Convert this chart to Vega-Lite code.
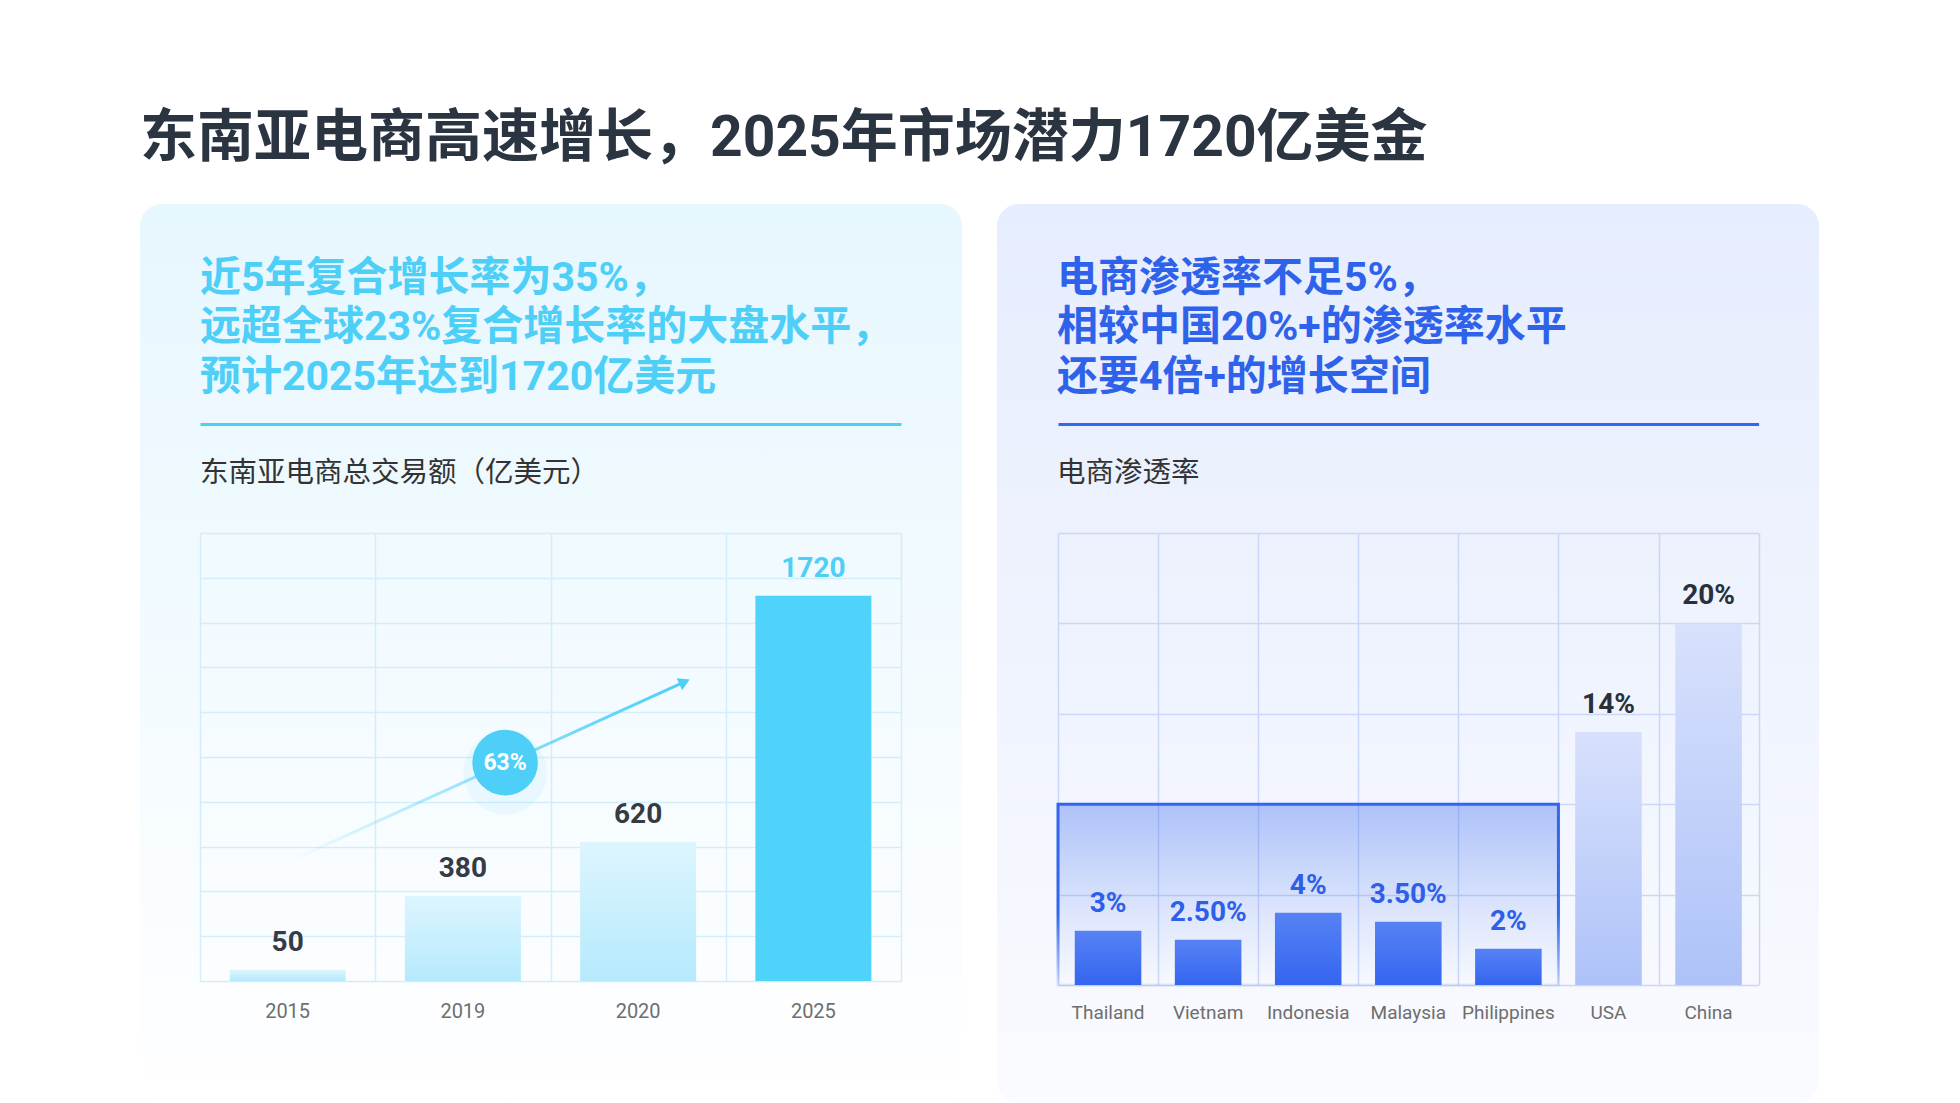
{
  "$schema": "https://vega.github.io/schema/vega-lite/v6.json",
  "background": "#FFFFFF",
  "padding": {"left": 140, "top": 110, "right": 20, "bottom": 0},
  "title": {
    "text": "东南亚电商高速增长，2025年市场潜力1720亿美金",
    "anchor": "start",
    "frame": "bounds",
    "font": "Roboto, Noto Sans CJK SC",
    "fontSize": 57,
    "fontWeight": "bold",
    "color": "#2B3441",
    "offset": 36
  },
  "datasets": {
    "gmv": [
      {"year": "2015", "gmv": 50},
      {"year": "2019", "gmv": 380},
      {"year": "2020", "gmv": 620},
      {"year": "2025", "gmv": 1720}
    ],
    "trend": [
      {"part": "tail", "pos": 0.526, "gmv": 540},
      {"part": "head", "pos": 2.765, "gmv": 1335}
    ],
    "cagr": [
      {"pos": 1.741, "gmv": 975, "label": "63%"}
    ],
    "pen": [
      {"country": "Thailand", "rate": 3, "label": "3%", "region": "SEA"},
      {"country": "Vietnam", "rate": 2.5, "label": "2.50%", "region": "SEA"},
      {"country": "Indonesia", "rate": 4, "label": "4%", "region": "SEA"},
      {"country": "Malaysia", "rate": 3.5, "label": "3.50%", "region": "SEA"},
      {"country": "Philippines", "rate": 2, "label": "2%", "region": "SEA"},
      {"country": "USA", "rate": 14, "label": "14%", "region": "Benchmark"},
      {"country": "China", "rate": 20, "label": "20%", "region": "Benchmark"}
    ],
    "seaBand": [
      {"from": 0, "to": 5, "low": 0, "high": 10}
    ]
  },
  "hconcat": [
    {
      "width": 822,
      "height": 899,
      "view": {
        "fill": {"gradient": "linear", "x1": 0, "y1": 0, "x2": 0, "y2": 1, "stops": [
          {"offset": 0, "color": "#E7F7FE"},
          {"offset": 0.55, "color": "#F4FBFF"},
          {"offset": 1, "color": "#FFFFFF"}
        ]},
        "cornerRadius": 22,
        "stroke": null
      },
      "title": {
        "text": ["近5年复合增长率为35%，", "远超全球23%复合增长率的大盘水平，", "预计2025年达到1720亿美元"],
        "subtitle": "东南亚电商总交易额（亿美元）",
        "anchor": "start",
        "frame": "group",
        "orient": "top",
        "baseline": "top",
        "dx": 60,
        "offset": -284,
        "font": "Roboto, Noto Sans CJK SC",
        "fontSize": 41,
        "fontWeight": "bold",
        "color": "#4DCFF7",
        "lineHeight": 49.5,
        "subtitleFont": "Noto Sans CJK SC",
        "subtitleFontSize": 28.5,
        "subtitleFontWeight": "normal",
        "subtitleColor": "#333333",
        "subtitlePadding": 60
      },
      "resolve": {"scale": {"x": "independent"}},
      "layer": [
        {
          "data": {"name": "gmv"},
          "encoding": {
            "x": {
              "field": "year", "type": "ordinal", "sort": null, "title": null,
              "scale": {"domain": ["2015", "2019", "2020", "2025"], "range": [60, 761], "paddingInner": 0.338, "paddingOuter": 0.169},
              "axis": {
                "orient": "bottom", "offset": -122, "title": null, "domain": false, "ticks": false,
                "labelPadding": 20, "labelFont": "Roboto", "labelFontSize": 20, "labelColor": "#6E6E6E", "labelAngle": 0,
                "grid": false
              }
            },
            "y": {
              "field": "gmv", "type": "quantitative", "title": null,
              "scale": {"domain": [0, 2000], "range": [777, 329], "nice": false, "zero": true},
              "axis": {
                "title": null, "labels": false, "ticks": false, "domain": false, "grid": true,
                "values": [0, 200, 400, 600, 800, 1000, 1200, 1400, 1600, 1800, 2000],
                "gridColor": "#D2EEF9", "gridWidth": 1.5
              }
            }
          },
          "layer": [
            {
              "transform": [{"filter": "datum.year !== '2025'"}],
              "mark": {"type": "bar", "fill": {"gradient": "linear", "x1": 0, "y1": 0, "x2": 0, "y2": 1, "stops": [
                {"offset": 0, "color": "#DDF5FE"},
                {"offset": 1, "color": "#B5EAFC"}
              ]}}
            },
            {
              "transform": [{"filter": "datum.year === '2025'"}],
              "mark": {"type": "bar", "fill": "#50D3FB"}
            },
            {
              "mark": {"type": "text", "font": "Roboto", "fontSize": 28, "fontWeight": "bold", "baseline": "middle", "dy": -27},
              "encoding": {
                "text": {"field": "gmv", "type": "quantitative", "format": "d"},
                "color": {"condition": {"test": "datum.year === '2025'", "value": "#4DCFF7"}, "value": "#353B45"}
              }
            }
          ]
        },
        {
          "encoding": {
            "x": {
              "field": "pos", "type": "quantitative", "title": null,
              "scale": {"domain": [0, 4], "range": [60, 761], "nice": false, "zero": false},
              "axis": {
                "orient": "top", "offset": -220, "title": null, "labels": false, "ticks": false,
                "grid": true, "values": [0, 1, 2, 3, 4], "gridColor": "#D2EEF9", "gridWidth": 1.5,
                "domain": true, "domainColor": "#4DCFF7", "domainWidth": 3
              }
            },
            "y": {
              "field": "gmv", "type": "quantitative", "title": null,
              "scale": {"domain": [0, 2000], "range": [777, 329], "nice": false, "zero": true}
            }
          },
          "layer": [
            {
              "data": {"name": "trend"},
              "mark": {"type": "line", "strokeWidth": 3, "stroke": {"gradient": "linear", "x1": 0, "y1": 0, "x2": 1, "y2": 0, "stops": [
                {"offset": 0, "color": "rgba(77,207,247,0)"},
                {"offset": 0.45, "color": "rgba(77,207,247,0.55)"},
                {"offset": 1, "color": "#4DCFF7"}
              ]}}
            },
            {
              "data": {"name": "trend"},
              "transform": [{"filter": "datum.part === 'head'"}],
              "mark": {"type": "point", "shape": "triangle-up", "filled": true, "fill": "#4DCFF7", "opacity": 1, "size": 170, "angle": 65.5}
            },
            {
              "data": {"name": "cagr"},
              "mark": {"type": "point", "shape": "circle", "filled": true, "fill": "#4DCFF7", "opacity": 0.08, "size": 7000, "yOffset": 10}
            },
            {
              "data": {"name": "cagr"},
              "mark": {"type": "point", "shape": "circle", "filled": true, "fill": "#4DCFF7", "opacity": 1, "size": 4300}
            },
            {
              "data": {"name": "cagr"},
              "mark": {"type": "text", "font": "Roboto", "fontSize": 23, "fontWeight": "bold", "color": "#FFFFFF", "baseline": "middle", "align": "center"},
              "encoding": {"text": {"field": "label", "type": "nominal"}}
            }
          ]
        }
      ]
    },
    {
      "width": 822,
      "height": 899,
      "view": {
        "fill": {"gradient": "linear", "x1": 0, "y1": 0, "x2": 0, "y2": 1, "stops": [
          {"offset": 0, "color": "#E6EDFD"},
          {"offset": 0.55, "color": "#F0F4FE"},
          {"offset": 1, "color": "#FAFBFF"}
        ]},
        "cornerRadius": 22,
        "stroke": null
      },
      "title": {
        "text": ["电商渗透率不足5%，", "相较中国20%+的渗透率水平", "还要4倍+的增长空间"],
        "subtitle": "电商渗透率",
        "anchor": "start",
        "frame": "group",
        "orient": "top",
        "baseline": "top",
        "dx": 60,
        "offset": -284,
        "font": "Roboto, Noto Sans CJK SC",
        "fontSize": 41,
        "fontWeight": "bold",
        "color": "#2F62EA",
        "lineHeight": 49.5,
        "subtitleFont": "Noto Sans CJK SC",
        "subtitleFontSize": 28.5,
        "subtitleFontWeight": "normal",
        "subtitleColor": "#333333",
        "subtitlePadding": 60
      },
      "resolve": {"scale": {"x": "independent"}},
      "layer": [
        {
          "data": {"name": "seaBand"},
          "mark": {
            "type": "rect",
            "strokeWidth": 3,
            "fill": {"gradient": "linear", "x1": 0, "y1": 0, "x2": 0, "y2": 1, "stops": [
              {"offset": 0, "color": "rgba(51,102,238,0.36)"},
              {"offset": 0.6, "color": "rgba(51,102,238,0.12)"},
              {"offset": 1, "color": "rgba(51,102,238,0)"}
            ]},
            "stroke": {"gradient": "linear", "x1": 0, "y1": 0, "x2": 0, "y2": 1, "stops": [
              {"offset": 0, "color": "#3366EE"},
              {"offset": 0.6, "color": "#3366EE"},
              {"offset": 1, "color": "rgba(51,102,238,0.1)"}
            ]}
          },
          "encoding": {
            "x": {
              "field": "from", "type": "quantitative", "title": null,
              "scale": {"domain": [0, 7], "range": [61, 761.6], "nice": false, "zero": false},
              "axis": {
                "orient": "top", "offset": -220, "title": null, "labels": false, "ticks": false,
                "grid": true, "values": [0, 1, 2, 3, 4, 5, 6, 7], "gridColor": "#CBD7F8", "gridWidth": 1.5,
                "domain": true, "domainColor": "#3367EC", "domainWidth": 3
              }
            },
            "x2": {"field": "to"},
            "y": {
              "field": "low", "type": "quantitative", "title": null,
              "scale": {"domain": [0, 25], "range": [781, 329], "nice": false, "zero": true},
              "axis": {
                "title": null, "labels": false, "ticks": false, "domain": false, "grid": true,
                "values": [0, 5, 10, 15, 20, 25],
                "gridColor": "#CBD7F8", "gridWidth": 1.5
              }
            },
            "y2": {"field": "high"}
          }
        },
        {
          "data": {"name": "pen"},
          "encoding": {
            "x": {
              "field": "country", "type": "nominal", "sort": null, "title": null,
              "scale": {"domain": ["Thailand", "Vietnam", "Indonesia", "Malaysia", "Philippines", "USA", "China"], "range": [61, 761.6], "paddingInner": 0.335, "paddingOuter": 0.1675},
              "axis": {
                "orient": "bottom", "offset": -118, "title": null, "domain": false, "ticks": false,
                "labelPadding": 18, "labelFont": "Roboto", "labelFontSize": 19, "labelColor": "#6E6E6E", "labelAngle": 0,
                "grid": false
              }
            },
            "y": {
              "field": "rate", "type": "quantitative", "title": null,
              "scale": {"domain": [0, 25], "range": [781, 329], "nice": false, "zero": true}
            }
          },
          "layer": [
            {
              "transform": [{"filter": "datum.region === 'SEA'"}],
              "mark": {"type": "bar", "fill": {"gradient": "linear", "x1": 0, "y1": 0, "x2": 0, "y2": 1, "stops": [
                {"offset": 0, "color": "#5782F4"},
                {"offset": 1, "color": "#3465F0"}
              ]}}
            },
            {
              "transform": [{"filter": "datum.region !== 'SEA'"}],
              "mark": {"type": "bar", "fill": {"gradient": "linear", "x1": 0, "y1": 0, "x2": 0, "y2": 1, "stops": [
                {"offset": 0, "color": "#D8E1FC"},
                {"offset": 1, "color": "#AEC2F9"}
              ]}}
            },
            {
              "mark": {"type": "text", "font": "Roboto", "fontSize": 28, "fontWeight": "bold", "baseline": "middle", "dy": -27},
              "encoding": {
                "text": {"field": "label", "type": "nominal"},
                "color": {"condition": {"test": "datum.region === 'SEA'", "value": "#2E5FEA"}, "value": "#28303C"}
              }
            }
          ]
        }
      ]
    }
  ],
  "spacing": 35,
  "config": {
    "view": {"stroke": null},
    "concat": {"spacing": 35}
  }
}
